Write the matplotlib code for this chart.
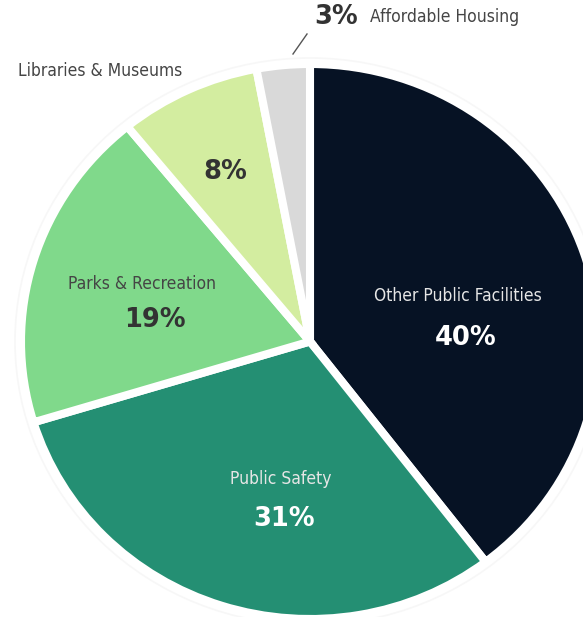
import matplotlib
matplotlib.use("Agg")
import matplotlib.pyplot as plt
from matplotlib.patches import Ellipse

# ---- data ----
categories = ["Other Public Facilities", "Public Safety", "Parks & Recreation",
              "Libraries & Museums", "Affordable Housing"]
values = [40, 31, 19, 8, 3]
pct_labels = ["40%", "31%", "19%", "8%", "3%"]
colors = ["#061224", "#248f73", "#80d98b", "#d3eda0", "#d9d9d9"]

W, H = 583, 617
fig = plt.figure(figsize=(W / 100, H / 100), dpi=100)
ax = fig.add_axes([0, 0, 1, 1])

cx, cy = 310, 341.5
rx, ry = 289, 277.5

ax.pie(values, colors=colors, startangle=90, counterclock=False, radius=1,
       wedgeprops=dict(edgecolor="white", linewidth=5.8))
ax.set_aspect("auto")
ax.set_xlim(-cx / rx, (W - cx) / rx)
ax.set_ylim(-(H - cy) / ry, cy / ry)
ax.axis("off")

ring = Ellipse((0, 0), 2 * (1 + 6 / rx), 2 * (1 + 6 / ry), fill=False,
               edgecolor="#f7f7f7", linewidth=1.2, zorder=0)
ax.add_patch(ring)

def fx(px):
    return px / W

def fy(py):
    return 1 - py / H

lab_kw = dict(family=["DejaVu Sans"], size=12.5, stretch="condensed", weight="light")
pct_kw = dict(family=["DejaVu Sans"], size=18.5, weight="bold")
dark_txt = "#454545"
pct_dark = "#333333"

fig.text(fx(458), fy(296), categories[0], color="#e6e6e6", ha="center", va="center", **lab_kw)
fig.text(fx(466), fy(338), pct_labels[0], color="white", ha="center", va="center", **pct_kw)
fig.text(fx(281), fy(479), categories[1], color="#e6e6e6", ha="center", va="center", **lab_kw)
fig.text(fx(284), fy(519), pct_labels[1], color="white", ha="center", va="center", **pct_kw)
fig.text(fx(142), fy(284), categories[2], color=dark_txt, ha="center", va="center", **lab_kw)
fig.text(fx(155), fy(320), pct_labels[2], color=pct_dark, ha="center", va="center", **pct_kw)
fig.text(fx(18), fy(71), categories[3], color=dark_txt, ha="left", va="center", **lab_kw)
fig.text(fx(225), fy(172), pct_labels[3], color=pct_dark, ha="center", va="center", **pct_kw)
fig.text(fx(314), fy(17), pct_labels[4], color=pct_dark, ha="left", va="center", **pct_kw)
fig.text(fx(370), fy(17), categories[4], color=dark_txt, ha="left", va="center", **lab_kw)
fig.add_artist(plt.Line2D([fx(293), fx(307)], [fy(54), fy(34)],
                          color="#555555", linewidth=1.0))

fig.savefig("out.png", dpi=100, facecolor="white")
